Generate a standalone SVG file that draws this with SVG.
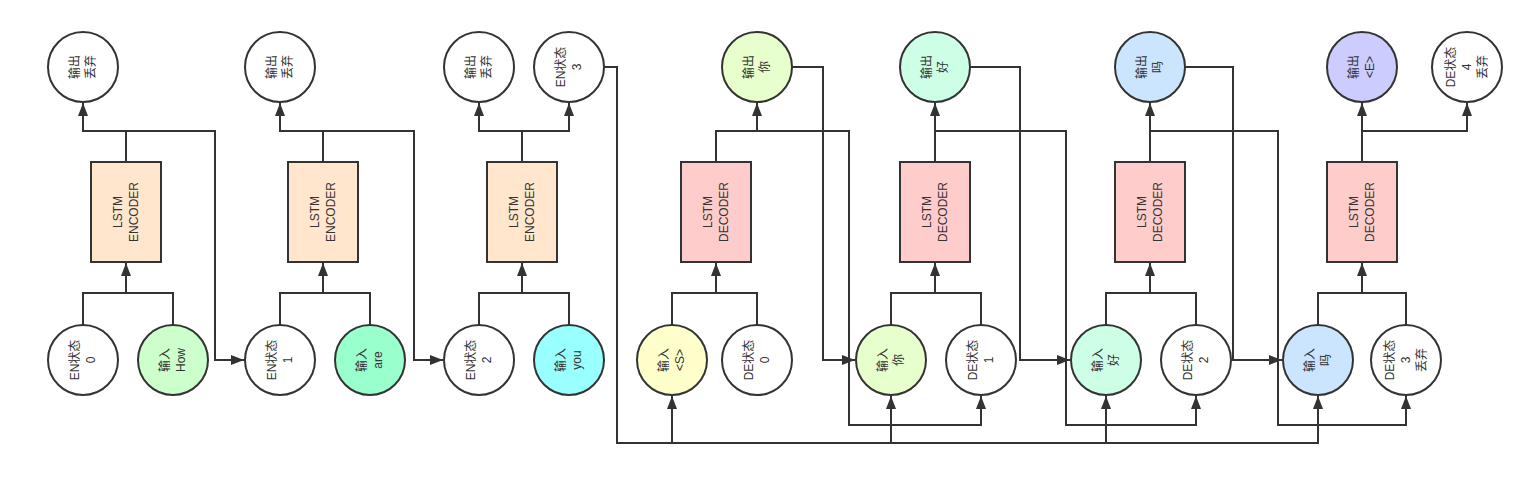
<svg xmlns="http://www.w3.org/2000/svg" width="1534" height="491" viewBox="0 0 1534 491">
<defs>
<marker id="arr" markerUnits="userSpaceOnUse" markerWidth="14" markerHeight="11" refX="13" refY="5" orient="auto">
<path d="M0,0 L13,5 L0,10 z" fill="#333"/>
</marker>
</defs>
<style>
.n{stroke:#333;stroke-width:2}
.w{fill:#fff}
.enc{fill:#ffe6cc}
.dec{fill:#ffcccc}
.c{fill:none;stroke:#333;stroke-width:2}
.a{marker-end:url(#arr)}
text{font-family:"Liberation Sans","Noto Sans CJK SC",sans-serif;font-size:12px;fill:#333;text-anchor:middle;dominant-baseline:central}
</style>
<rect width="1534" height="491" fill="#fff"/>
<g id="connectors">
<path class="c a" d="M126 162 V131 H83 V103"/>
<path class="c a" d="M126 131 H215 V360 H244"/>
<path class="c" d="M83 325 V293 H173 V325"/>
<path class="c a" d="M126 293 V263"/>
<path class="c a" d="M323 162 V131 H280 V103"/>
<path class="c a" d="M323 131 H414 V360 H443"/>
<path class="c" d="M280 325 V293 H370 V325"/>
<path class="c a" d="M323 293 V263"/>
<path class="c a" d="M522 162 V131 H479 V103"/>
<path class="c a" d="M522 131 H569 V103"/>
<path class="c" d="M479 325 V293 H569 V325"/>
<path class="c a" d="M522 293 V263"/>
<path class="c a" d="M604 67 H617 V443 H1318 V396"/>
<path class="c a" d="M672 443 V396"/>
<path class="c a" d="M891 443 V396"/>
<path class="c a" d="M1106 443 V396"/>
<path class="c a" d="M716 162 V131 H757 V103"/>
<path class="c a" d="M757 131 H849 V425 H981 V396"/>
<path class="c" d="M672 325 V293 H757 V325"/>
<path class="c a" d="M716 293 V263"/>
<path class="c a" d="M792 67 H823 V360 H855"/>
<path class="c a" d="M935 162 V103"/>
<path class="c a" d="M935 131 H1066 V425 H1196 V396"/>
<path class="c" d="M891 325 V293 H981 V325"/>
<path class="c a" d="M935 293 V263"/>
<path class="c a" d="M970 67 H1020 V360 H1070"/>
<path class="c a" d="M1150 162 V103"/>
<path class="c a" d="M1150 131 H1278 V425 H1406 V396"/>
<path class="c" d="M1106 325 V293 H1196 V325"/>
<path class="c a" d="M1150 293 V263"/>
<path class="c a" d="M1185 67 H1233 V360 H1282"/>
<path class="c a" d="M1362 162 V103"/>
<path class="c a" d="M1362 131 H1467 V103"/>
<path class="c" d="M1318 325 V293 H1406 V325"/>
<path class="c a" d="M1362 293 V263"/>
</g>
<g id="enc1"><rect class="n enc" x="91" y="162" width="70" height="100"/><g transform="translate(126,212) rotate(-90)"><text y="-8">LSTM</text><text y="8">ENCODER</text></g></g>
<g id="enc2"><rect class="n enc" x="288" y="162" width="70" height="100"/><g transform="translate(323,212) rotate(-90)"><text y="-8">LSTM</text><text y="8">ENCODER</text></g></g>
<g id="enc3"><rect class="n enc" x="487" y="162" width="70" height="100"/><g transform="translate(522,212) rotate(-90)"><text y="-8">LSTM</text><text y="8">ENCODER</text></g></g>
<g id="dec1"><rect class="n dec" x="681" y="162" width="70" height="100"/><g transform="translate(716,212) rotate(-90)"><text y="-8">LSTM</text><text y="8">DECODER</text></g></g>
<g id="dec2"><rect class="n dec" x="900" y="162" width="70" height="100"/><g transform="translate(935,212) rotate(-90)"><text y="-8">LSTM</text><text y="8">DECODER</text></g></g>
<g id="dec3"><rect class="n dec" x="1115" y="162" width="70" height="100"/><g transform="translate(1150,212) rotate(-90)"><text y="-8">LSTM</text><text y="8">DECODER</text></g></g>
<g id="dec4"><rect class="n dec" x="1327" y="162" width="70" height="100"/><g transform="translate(1362,212) rotate(-90)"><text y="-8">LSTM</text><text y="8">DECODER</text></g></g>
<g id="out1"><circle class="n w" cx="83" cy="67" r="35"/><g transform="translate(83,67) rotate(-90)"><text y="-8">输出</text><text y="8">丢弃</text></g></g>
<g id="out2"><circle class="n w" cx="280" cy="67" r="35"/><g transform="translate(280,67) rotate(-90)"><text y="-8">输出</text><text y="8">丢弃</text></g></g>
<g id="out3"><circle class="n w" cx="479" cy="67" r="35"/><g transform="translate(479,67) rotate(-90)"><text y="-8">输出</text><text y="8">丢弃</text></g></g>
<g id="en3"><circle class="n w" cx="569" cy="67" r="35"/><g transform="translate(569,67) rotate(-90)"><text y="-8">EN状态</text><text y="8">3</text></g></g>
<g id="outNi"><circle class="n" fill="#e6ffcc" cx="757" cy="67" r="35"/><g transform="translate(757,67) rotate(-90)"><text y="-8">输出</text><text y="8">你</text></g></g>
<g id="outHao"><circle class="n" fill="#ccffe6" cx="935" cy="67" r="35"/><g transform="translate(935,67) rotate(-90)"><text y="-8">输出</text><text y="8">好</text></g></g>
<g id="outMa"><circle class="n" fill="#cce5ff" cx="1150" cy="67" r="35"/><g transform="translate(1150,67) rotate(-90)"><text y="-8">输出</text><text y="8">吗</text></g></g>
<g id="outE"><circle class="n" fill="#ccccff" cx="1362" cy="67" r="35"/><g transform="translate(1362,67) rotate(-90)"><text y="-8">输出</text><text y="8">&lt;E&gt;</text></g></g>
<g id="de4"><circle class="n w" cx="1467" cy="67" r="35"/><g transform="translate(1467,67) rotate(-90)"><text y="-16">DE状态</text><text y="0">4</text><text y="16">丢弃</text></g></g>
<g id="en0"><circle class="n w" cx="83" cy="360" r="35"/><g transform="translate(83,360) rotate(-90)"><text y="-8">EN状态</text><text y="8">0</text></g></g>
<g id="inHow"><circle class="n" fill="#ccffcc" cx="173" cy="360" r="35"/><g transform="translate(173,360) rotate(-90)"><text y="-8">输入</text><text y="8">How</text></g></g>
<g id="en1"><circle class="n w" cx="280" cy="360" r="35"/><g transform="translate(280,360) rotate(-90)"><text y="-8">EN状态</text><text y="8">1</text></g></g>
<g id="inAre"><circle class="n" fill="#99ffcc" cx="370" cy="360" r="35"/><g transform="translate(370,360) rotate(-90)"><text y="-8">输入</text><text y="8">are</text></g></g>
<g id="en2"><circle class="n w" cx="479" cy="360" r="35"/><g transform="translate(479,360) rotate(-90)"><text y="-8">EN状态</text><text y="8">2</text></g></g>
<g id="inYou"><circle class="n" fill="#99ffff" cx="569" cy="360" r="35"/><g transform="translate(569,360) rotate(-90)"><text y="-8">输入</text><text y="8">you</text></g></g>
<g id="inS"><circle class="n" fill="#ffffcc" cx="672" cy="360" r="35"/><g transform="translate(672,360) rotate(-90)"><text y="-8">输入</text><text y="8">&lt;S&gt;</text></g></g>
<g id="de0"><circle class="n w" cx="757" cy="360" r="35"/><g transform="translate(757,360) rotate(-90)"><text y="-8">DE状态</text><text y="8">0</text></g></g>
<g id="inNi"><circle class="n" fill="#e6ffcc" cx="891" cy="360" r="35"/><g transform="translate(891,360) rotate(-90)"><text y="-8">输入</text><text y="8">你</text></g></g>
<g id="de1"><circle class="n w" cx="981" cy="360" r="35"/><g transform="translate(981,360) rotate(-90)"><text y="-8">DE状态</text><text y="8">1</text></g></g>
<g id="inHao"><circle class="n" fill="#ccffe6" cx="1106" cy="360" r="35"/><g transform="translate(1106,360) rotate(-90)"><text y="-8">输入</text><text y="8">好</text></g></g>
<g id="de2"><circle class="n w" cx="1196" cy="360" r="35"/><g transform="translate(1196,360) rotate(-90)"><text y="-8">DE状态</text><text y="8">2</text></g></g>
<g id="inMa"><circle class="n" fill="#cce5ff" cx="1318" cy="360" r="35"/><g transform="translate(1318,360) rotate(-90)"><text y="-8">输入</text><text y="8">吗</text></g></g>
<g id="de3"><circle class="n w" cx="1406" cy="360" r="35"/><g transform="translate(1406,360) rotate(-90)"><text y="-16">DE状态</text><text y="0">3</text><text y="16">丢弃</text></g></g>
</svg>
